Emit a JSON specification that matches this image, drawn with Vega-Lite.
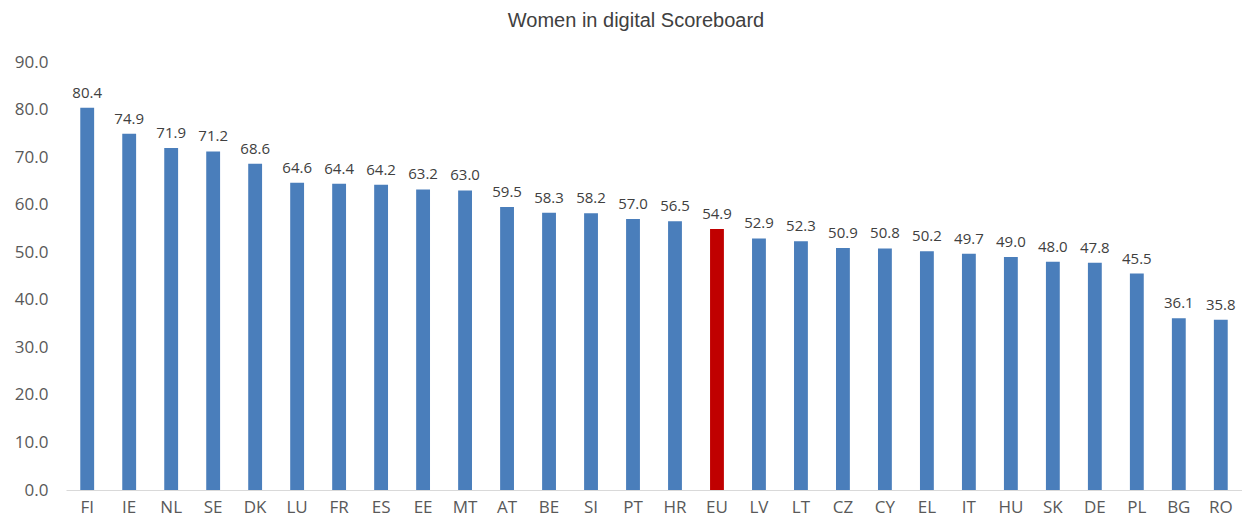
{
  "$schema": "https://vega.github.io/schema/vega-lite/v6.json",
  "autosize": "none",
  "width": 1176,
  "height": 428,
  "padding": {"left": 66, "top": 62, "right": 0, "bottom": 35},
  "background": "white",
  "title": {"text": "Women in digital Scoreboard", "font": "Liberation Sans", "fontSize": 20, "fontWeight": "normal", "color": "#404040", "anchor": "middle", "dx": -18, "offset": 22},
  "data": {"values": [
    {"country": "FI", "value": 80.4, "type": "c"},
    {"country": "IE", "value": 74.9, "type": "c"},
    {"country": "NL", "value": 71.9, "type": "c"},
    {"country": "SE", "value": 71.2, "type": "c"},
    {"country": "DK", "value": 68.6, "type": "c"},
    {"country": "LU", "value": 64.6, "type": "c"},
    {"country": "FR", "value": 64.4, "type": "c"},
    {"country": "ES", "value": 64.2, "type": "c"},
    {"country": "EE", "value": 63.2, "type": "c"},
    {"country": "MT", "value": 63.0, "type": "c"},
    {"country": "AT", "value": 59.5, "type": "c"},
    {"country": "BE", "value": 58.3, "type": "c"},
    {"country": "SI", "value": 58.2, "type": "c"},
    {"country": "PT", "value": 57.0, "type": "c"},
    {"country": "HR", "value": 56.5, "type": "c"},
    {"country": "EU", "value": 54.9, "type": "eu"},
    {"country": "LV", "value": 52.9, "type": "c"},
    {"country": "LT", "value": 52.3, "type": "c"},
    {"country": "CZ", "value": 50.9, "type": "c"},
    {"country": "CY", "value": 50.8, "type": "c"},
    {"country": "EL", "value": 50.2, "type": "c"},
    {"country": "IT", "value": 49.7, "type": "c"},
    {"country": "HU", "value": 49.0, "type": "c"},
    {"country": "SK", "value": 48.0, "type": "c"},
    {"country": "DE", "value": 47.8, "type": "c"},
    {"country": "PL", "value": 45.5, "type": "c"},
    {"country": "BG", "value": 36.1, "type": "c"},
    {"country": "RO", "value": 35.8, "type": "c"}
  ]},
  "encoding": {
    "x": {"field": "country", "type": "nominal", "sort": null, "title": null,
      "scale": {"paddingInner": 0.67, "paddingOuter": 0.34},
      "axis": {"labelAngle": 0, "ticks": false, "domainColor": "#D9D9D9", "labelFont": "Open Sans", "labelFontSize": 17, "labelColor": "#595959", "labelPadding": 9}},
    "y": {"field": "value", "type": "quantitative", "title": null,
      "scale": {"domain": [0, 90], "nice": false},
      "axis": {"values": [0,10,20,30,40,50,60,70,80,90], "format": ".1f", "grid": false, "ticks": false, "domain": false, "labelFont": "Open Sans", "labelFontSize": 17, "labelColor": "#595959", "labelPadding": 18}}
  },
  "layer": [
    {"mark": {"type": "bar"},
     "encoding": {"color": {"field": "type", "type": "nominal", "legend": null, "scale": {"domain": ["c", "eu"], "range": ["#4A7EBB", "#C00000"]}}}},
    {"mark": {"type": "text", "dy": -15, "font": "Open Sans", "fontSize": 15, "color": "#404040"},
     "encoding": {"text": {"field": "value", "type": "quantitative", "format": ".1f"}}}
  ],
  "config": {"view": {"stroke": null}}
}
